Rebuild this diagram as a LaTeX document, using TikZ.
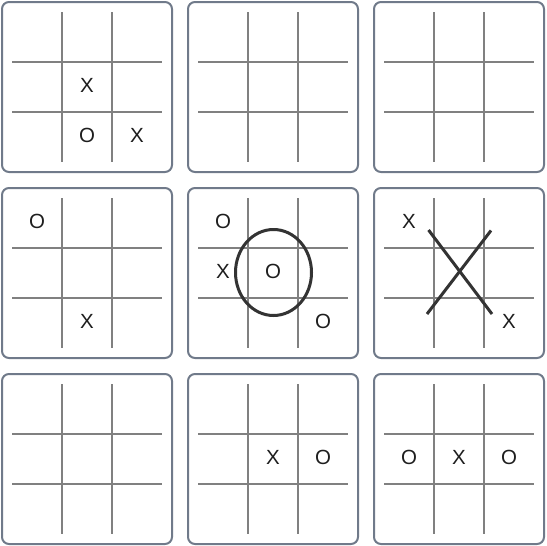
\documentclass[tikz,border=0pt]{standalone}
\usepackage{fontspec}
\setmainfont{Liberation Sans}
\definecolor{cardc}{RGB}{112,122,138}
\definecolor{gridc}{RGB}{128,128,128}
\definecolor{markc}{RGB}{30,30,30}
\definecolor{bigc}{RGB}{51,51,51}
\begin{document}
\begin{tikzpicture}[x=1pt,y=-1pt,
  card/.style={draw=cardc, line width=2pt, rounded corners=7pt, fill=white},
  gridl/.style={draw=gridc, line width=2pt},
  mk/.style={text=markc, font=\fontsize{20.5}{22}\selectfont, inner sep=0pt, anchor=base},
  big/.style={draw=bigc, line width=3pt}]
\useasboundingbox (0,0) rectangle (546,546);
\foreach \i in {0,1,2} \foreach \j in {0,1,2} {
  \draw[card] (2+186*\i, 2+186*\j) rectangle (172+186*\i, 172+186*\j);
  \foreach \k in {62,112} {
    \draw[gridl] (12+186*\i, \k+186*\j) -- (162+186*\i, \k+186*\j);
    \draw[gridl] (\k+186*\i, 12+186*\j) -- (\k+186*\i, 162+186*\j);
  }
}
% box 1
\node[mk] (a1) at (87,92.8) {X};
\node[mk] (a2) at (87,142.8) {O};
\node[mk] (a3) at (137,142.8) {X};
% box 4
\node[mk] (d1) at (37,228.8) {O};
\node[mk] (d2) at (87,328.8) {X};
% box 5
\node[mk] (e1) at (223,228.8) {O};
\node[mk] (e2) at (223,278.8) {X};
\node[mk] (e3) at (273,278.8) {O};
\node[mk] (e4) at (323,328.8) {O};
\draw[big] (273.5,272.5) ellipse [x radius=38pt, y radius=43pt];
% box 6
\node[mk] (f1) at (409,228.8) {X};
\node[mk] (f2) at (509,328.8) {X};
\draw[big] (428.5,230) -- (492,314);
\draw[big] (491,230.5) -- (427,314);
% box 8
\node[mk] (h1) at (273,464.8) {X};
\node[mk] (h2) at (323,464.8) {O};
% box 9
\node[mk] (i1) at (409,464.8) {O};
\node[mk] (i2) at (459,464.8) {X};
\node[mk] (i3) at (509,464.8) {O};
\end{tikzpicture}
\end{document}
